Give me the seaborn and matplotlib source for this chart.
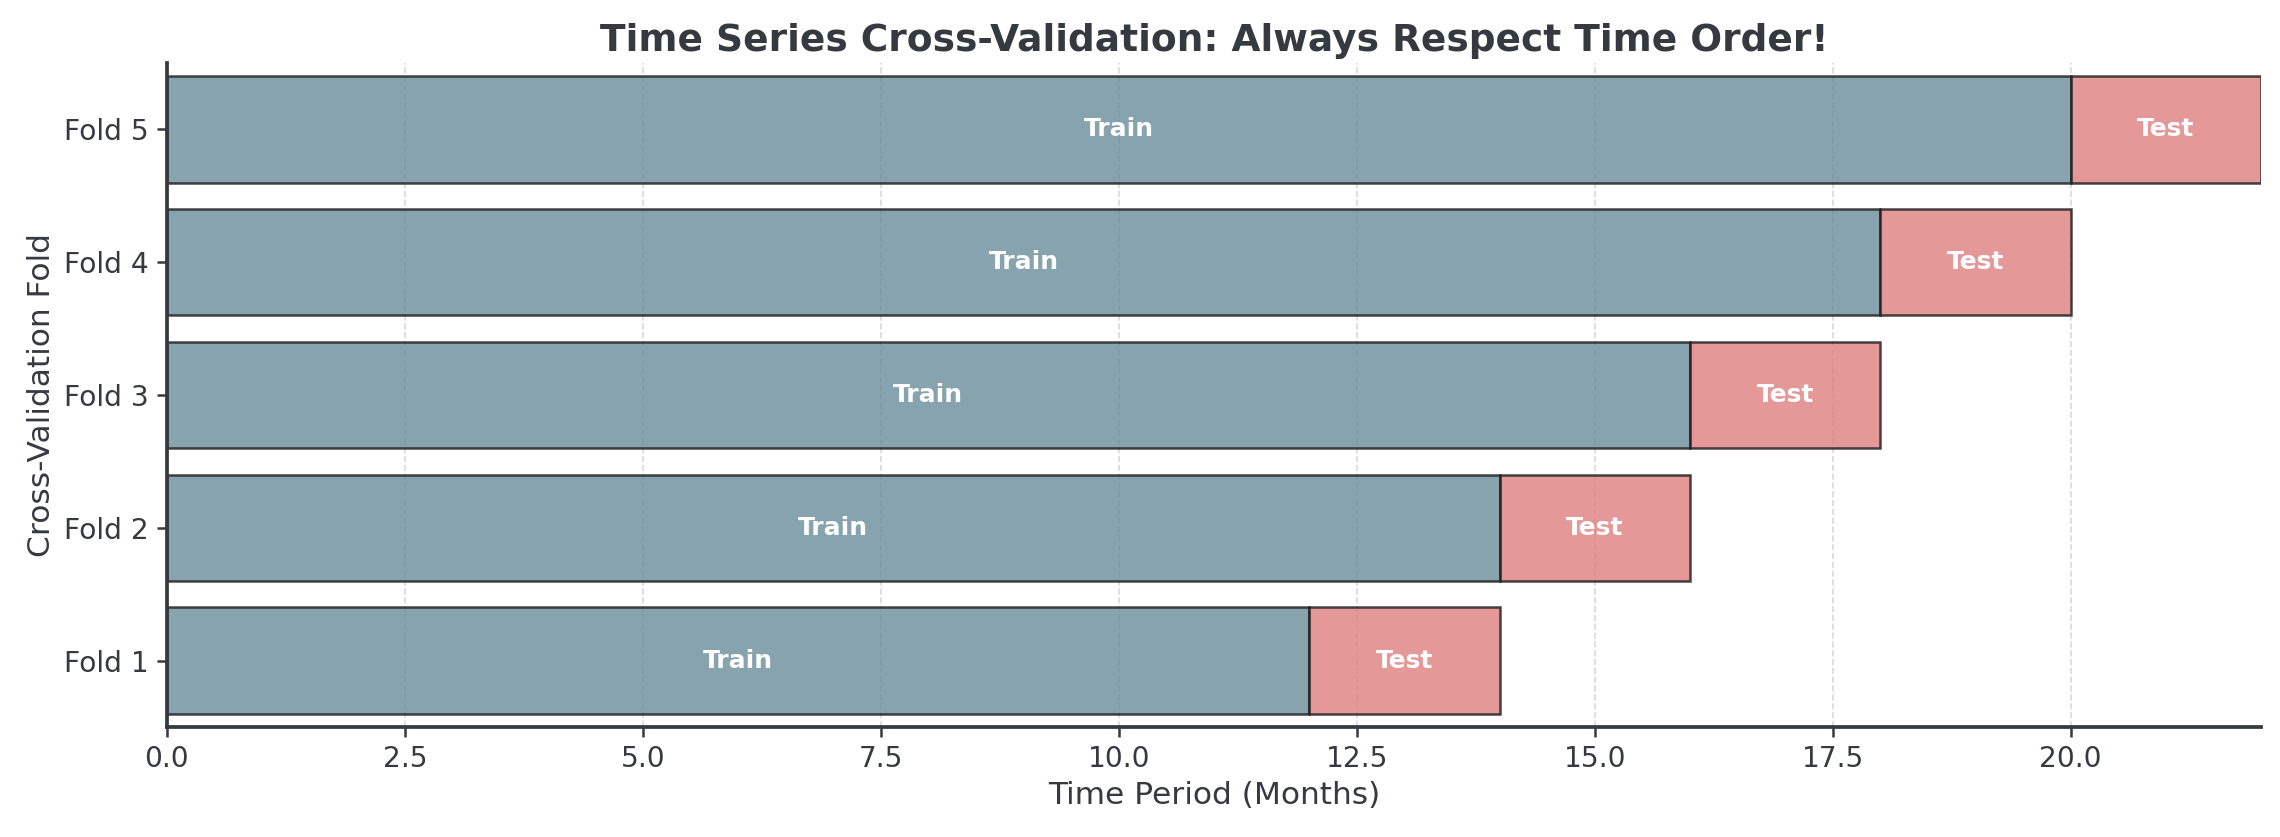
import matplotlib
matplotlib.use("Agg")
import matplotlib.pyplot as plt
import seaborn as sns
import pandas as pd

# ---------------- datos ----------------
folds = ['Fold 1', 'Fold 2', 'Fold 3', 'Fold 4', 'Fold 5']
train_end = [12, 14, 16, 18, 20]
test_len = [2, 2, 2, 2, 2]

df = pd.DataFrame({'fold': folds, 'train': train_end, 'test': test_len})

ink = '#343a40'
train_color = '#688C9A'
test_color = '#DE7E7E'

sns.set_theme(style="ticks")
plt.rcParams['font.family'] = ['DejaVu Sans']
plt.rcParams['text.color'] = ink
plt.rcParams['axes.labelcolor'] = ink
plt.rcParams['xtick.color'] = ink
plt.rcParams['ytick.color'] = ink
plt.rcParams['axes.edgecolor'] = ink

fig, ax = plt.subplots(figsize=(15.2, 5.58), dpi=150)

# Fold 5 arriba, Fold 1 abajo
order = folds[::-1]
sns.barplot(data=df, x='train', y='fold', order=order, orient='h',
            color=train_color, saturation=1, width=0.8, alpha=0.8,
            edgecolor='#1a1a1a', linewidth=1.2, ax=ax, zorder=2)

pos = [order.index(f) for f in df['fold']]
ax.barh(pos, df['test'], left=df['train'], height=0.8, color=test_color,
        alpha=0.8, edgecolor='#1a1a1a', linewidth=1.2, zorder=2)

# etiquetas dentro de las barras
for p, tr, te in zip(pos, df['train'], df['test']):
    ax.text(tr / 2, p, 'Train', ha='center', va='center', color='white',
            fontweight='bold', fontsize=12, zorder=3)
    ax.text(tr + te / 2, p, 'Test', ha='center', va='center', color='white',
            fontweight='bold', fontsize=12, zorder=3)

ax.set_xlim(0, 22)
ax.set_ylim(4.5, -0.5)
ax.grid(axis='x', linestyle='--', color='gray', alpha=0.3, linewidth=0.8, zorder=0)
ax.set_axisbelow(True)

ax.set_title('Time Series Cross-Validation: Always Respect Time Order!',
             fontsize=18, fontweight='bold', color=ink)
ax.set_xlabel('Time Period (Months)', fontsize=15)
ax.set_ylabel('Cross-Validation Fold', fontsize=15)
ax.tick_params(axis='both', labelsize=13.5, width=1.2, length=5)

sns.despine(ax=ax)
for s in ['left', 'bottom']:
    ax.spines[s].set_linewidth(1.8)

plt.subplots_adjust(left=0.0732, right=0.9917, top=0.9247, bottom=0.1314)
plt.savefig('out.png', dpi=150)
